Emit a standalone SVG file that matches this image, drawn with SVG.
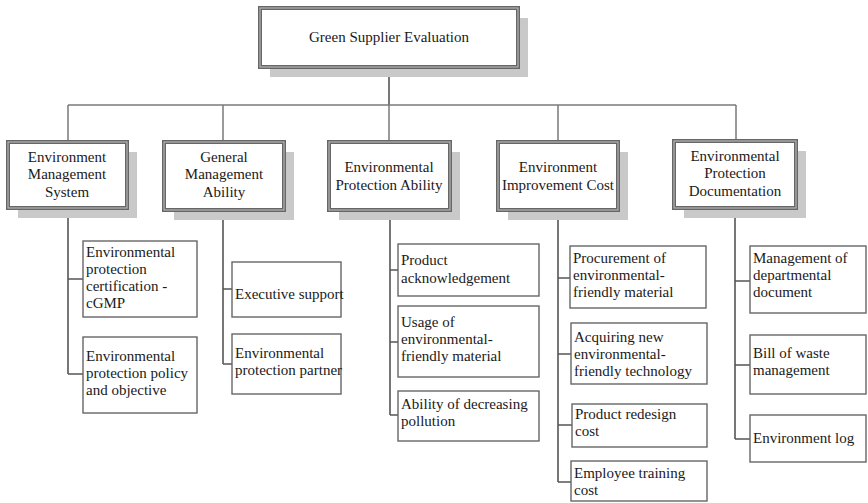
<svg xmlns="http://www.w3.org/2000/svg" width="868" height="503" viewBox="0 0 868 503">
<style>
  .shadow { fill: #c9c9c9; }
  .outer { fill: #ffffff; stroke: #666666; stroke-width: 4; }
  .inner { fill: none; stroke: #b5b5b5; stroke-width: 1.2; }
  .leaf { fill: #ffffff; stroke: #666666; stroke-width: 1.4; }
  .conn { fill: none; stroke: #555555; stroke-width: 1.6; }
  .bus { fill: none; stroke: #7a7a7a; stroke-width: 1.5; }
  text { font-family: 'Liberation Serif', 'DejaVu Serif', serif; font-size: 15px; fill: #1a1a1a; }
  .c { text-anchor: middle; }
</style>
<rect width="868" height="503" fill="#ffffff"/>

<g id="connectors">
  <path class="conn" d="M389 67 V105"/>
  <path class="bus" d="M68 105 H736"/>
  <path class="bus" d="M68 105 V142 M223 105 V142 M389 105 V142 M558 105 V142 M736 105 V141"/>
  <path class="conn" d="M68 208 V374 M68 279 H83 M68 374 H83"/>
  <path class="conn" d="M223 210 V364 M223 289 H232 M223 364 H232"/>
  <path class="conn" d="M390 210 V415 M390 270 H398 M390 342 H398 M390 415 H398"/>
  <path class="conn" d="M558 210 V482 M558 278 H570 M558 354 H571 M558 425 H572 M558 482 H571"/>
  <path class="conn" d="M735 208 V439 M735 281 H750 M735 365 H750 M735 439 H750"/>
</g>

<g font-family="Liberation Serif, serif">
<g id="root">
  <rect class="shadow" x="270" y="18" width="258" height="59"/>
  <rect class="outer" x="260" y="8" width="258" height="59"/>
  <rect class="inner" x="260" y="8" width="258" height="59"/>
  <text class="c" x="389" y="42">Green Supplier Evaluation</text>
</g>

<g id="ems">
  <rect class="shadow" x="18" y="152" width="119" height="66"/>
  <rect class="outer" x="8" y="142" width="119" height="66"/>
  <rect class="inner" x="8" y="142" width="119" height="66"/>
  <text class="c" x="67" y="162">Environment</text>
  <text class="c" x="67" y="179">Management</text>
  <text class="c" x="67" y="197">System</text>
</g>

<g id="gma">
  <rect class="shadow" x="174" y="152" width="120" height="68"/>
  <rect class="outer" x="164" y="142" width="120" height="68"/>
  <rect class="inner" x="164" y="142" width="120" height="68"/>
  <text class="c" x="224" y="162">General</text>
  <text class="c" x="224" y="179">Management</text>
  <text class="c" x="224" y="197">Ability</text>
</g>

<g id="epa">
  <rect class="shadow" x="339" y="152" width="121" height="68"/>
  <rect class="outer" x="329" y="142" width="121" height="68"/>
  <rect class="inner" x="329" y="142" width="121" height="68"/>
  <text class="c" x="389" y="172">Environmental</text>
  <text class="c" x="389" y="190">Protection Ability</text>
</g>

<g id="eic">
  <rect class="shadow" x="508" y="152" width="120" height="68"/>
  <rect class="outer" x="498" y="142" width="120" height="68"/>
  <rect class="inner" x="498" y="142" width="120" height="68"/>
  <text class="c" x="558" y="172">Environment</text>
  <text class="c" x="558" y="190">Improvement Cost</text>
</g>

<g id="epd">
  <rect class="shadow" x="684" y="151" width="122" height="67"/>
  <rect class="outer" x="674" y="141" width="122" height="67"/>
  <rect class="inner" x="674" y="141" width="122" height="67"/>
  <text class="c" x="735" y="161">Environmental</text>
  <text class="c" x="735" y="178">Protection</text>
  <text class="c" x="735" y="196">Documentation</text>
</g>

<g id="ems-1">
  <rect class="leaf" x="83" y="241" width="114" height="76"/>
  <text x="86" y="257">Environmental</text>
  <text x="86" y="274">protection</text>
  <text x="86" y="291">certification -</text>
  <text x="86" y="308">cGMP</text>
</g>
<g id="ems-2">
  <rect class="leaf" x="83" y="337" width="114" height="76"/>
  <text x="86" y="361">Environmental</text>
  <text x="86" y="378">protection policy</text>
  <text x="86" y="395">and objective</text>
</g>

<g id="gma-1">
  <rect class="leaf" x="232" y="262" width="109" height="55"/>
  <text x="235" y="299">Executive support</text>
</g>
<g id="gma-2">
  <rect class="leaf" x="232" y="334" width="109" height="60"/>
  <text x="235" y="358">Environmental</text>
  <text x="235" y="375">protection partner</text>
</g>

<g id="epa-1">
  <rect class="leaf" x="398" y="244" width="141" height="52"/>
  <text x="401" y="265">Product</text>
  <text x="401" y="283">acknowledgement</text>
</g>
<g id="epa-2">
  <rect class="leaf" x="398" y="306" width="141" height="71"/>
  <text x="401" y="327">Usage of</text>
  <text x="401" y="344">environmental-</text>
  <text x="401" y="361">friendly material</text>
</g>
<g id="epa-3">
  <rect class="leaf" x="398" y="391" width="141" height="50"/>
  <text x="401" y="409">Ability of decreasing</text>
  <text x="401" y="426">pollution</text>
</g>

<g id="eic-1">
  <rect class="leaf" x="570" y="246" width="136" height="62"/>
  <text x="573" y="263">Procurement of</text>
  <text x="573" y="280">environmental-</text>
  <text x="573" y="297">friendly material</text>
</g>
<g id="eic-2">
  <rect class="leaf" x="571" y="323" width="136" height="61"/>
  <text x="574" y="342">Acquiring new</text>
  <text x="574" y="359">environmental-</text>
  <text x="574" y="376">friendly technology</text>
</g>
<g id="eic-3">
  <rect class="leaf" x="572" y="404" width="135" height="43"/>
  <text x="575" y="419">Product redesign</text>
  <text x="575" y="436">cost</text>
</g>
<g id="eic-4">
  <rect class="leaf" x="571" y="461" width="136" height="40"/>
  <text x="574" y="478">Employee training</text>
  <text x="574" y="495">cost</text>
</g>

<g id="epd-1">
  <rect class="leaf" x="750" y="246" width="116" height="67"/>
  <text x="753" y="263">Management of</text>
  <text x="753" y="280">departmental</text>
  <text x="753" y="297">document</text>
</g>
<g id="epd-2">
  <rect class="leaf" x="750" y="335" width="116" height="59"/>
  <text x="753" y="358">Bill of waste</text>
  <text x="753" y="375">management</text>
</g>
<g id="epd-3">
  <rect class="leaf" x="750" y="415" width="116" height="47"/>
  <text x="753" y="443">Environment log</text>
</g>
</g>
</svg>
